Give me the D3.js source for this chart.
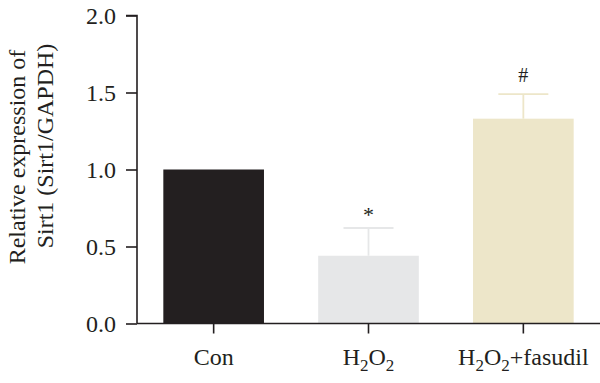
<!DOCTYPE html>
<html><head><meta charset="utf-8">
<script src="https://cdn.jsdelivr.net/npm/d3@7"></script>
<style>body{margin:0;background:#fff}svg{display:block}</style>
</head><body>
<svg id="c" width="600" height="383"></svg>
<script>
const categories = ["Con", "H2O2", "H2O2+fasudil"];
const values = [1.0, 0.44, 1.33];
const errors = [0.0, 0.18, 0.16];
const marks = ["", "*", "#"];
const colors = ["#231f20", "#e6e7e8", "#ede6c9"];
const yTicks = [0.0, 0.5, 1.0, 1.5, 2.0];
const yLabelLines = ["Relative expression of", "Sirt1 (Sirt1/GAPDH)"];

const svg = d3.select("#c");
const font = "'Liberation Serif', 'Times New Roman', serif";
const ink = "#231f20";
const x = d3.scaleBand().domain(categories).range([137, 600]).paddingInner(0.35).paddingOuter(0.17);
const y = d3.scaleLinear().domain([0, 2]).range([323.5, 15.5]);

// bars
svg.selectAll("rect.bar").data(categories).join("rect")
  .attr("x", d => x(d)).attr("width", x.bandwidth())
  .attr("y", (d, i) => y(values[i])).attr("height", (d, i) => y(0) - y(values[i]))
  .attr("fill", (d, i) => colors[i]);

// error bars
const eb = svg.append("g");
categories.forEach((c, i) => {
  if (!errors[i]) return;
  const cx = x(c) + x.bandwidth() / 2;
  eb.append("line").attr("x1", cx).attr("x2", cx).attr("y1", y(values[i])).attr("y2", y(values[i] + errors[i]))
    .attr("stroke", colors[i]).attr("stroke-width", 1.8);
  eb.append("line").attr("x1", cx - 25).attr("x2", cx + 25).attr("y1", y(values[i] + errors[i])).attr("y2", y(values[i] + errors[i]))
    .attr("stroke", colors[i]).attr("stroke-width", 1.8);
  svg.append("text").attr("x", cx).attr("y", y(values[i] + errors[i]) - (marks[i] === "*" ? 6 : 12))
    .attr("text-anchor", "middle").attr("font-family", font).attr("font-size", marks[i] === "*" ? 22 : 20)
    .attr("fill", ink).text(marks[i]);
});

// y axis
const ya = svg.append("g").attr("transform", "translate(137,0)")
  .call(d3.axisLeft(y).tickValues(yTicks).tickFormat(d3.format(".1f")).tickSize(11).tickPadding(10));
ya.select(".domain").attr("stroke", ink).attr("stroke-width", 1.6).attr("d", "M-11,15.5H0V323.5");
ya.selectAll(".tick line").attr("stroke", ink).attr("stroke-width", 1.6);
ya.selectAll(".tick text").attr("font-family", font).attr("font-size", 24).attr("fill", ink);

// x axis
const xa = svg.append("g").attr("transform", "translate(0,323.5)")
  .call(d3.axisBottom(x).tickSize(10).tickFormat(""));
xa.select(".domain").attr("stroke", ink).attr("stroke-width", 1.6).attr("d", "M137,0H600");
xa.selectAll(".tick line").attr("stroke", ink).attr("stroke-width", 1.6);

// x labels with subscripts
function label(sel, d) {
  const parts = d.split(/(2)/).filter(p => p);
  let lifted = false;
  parts.forEach(p => {
    if (p === "2") {
      sel.append("tspan").attr("font-size", 17).attr("dy", 6).text("2");
      lifted = true;
    } else {
      const t = sel.append("tspan").text(p);
      if (lifted) { t.attr("dy", -6); lifted = false; }
    }
  });
}
categories.forEach(c => {
  const t = svg.append("text").attr("x", x(c) + x.bandwidth() / 2).attr("y", 365)
    .attr("text-anchor", "middle").attr("font-family", font).attr("font-size", 24).attr("fill", ink);
  label(t, c);
});

// y label
const yl = svg.append("g");
[[25, 157], [53, 146]].forEach((p, i) => {
  yl.append("text").attr("transform", `translate(${p[0]},${p[1]}) rotate(-90)`)
    .attr("text-anchor", "middle").attr("font-family", font).attr("font-size", 24).attr("fill", ink)
    .text(yLabelLines[i]);
});
</script>
</body></html>
